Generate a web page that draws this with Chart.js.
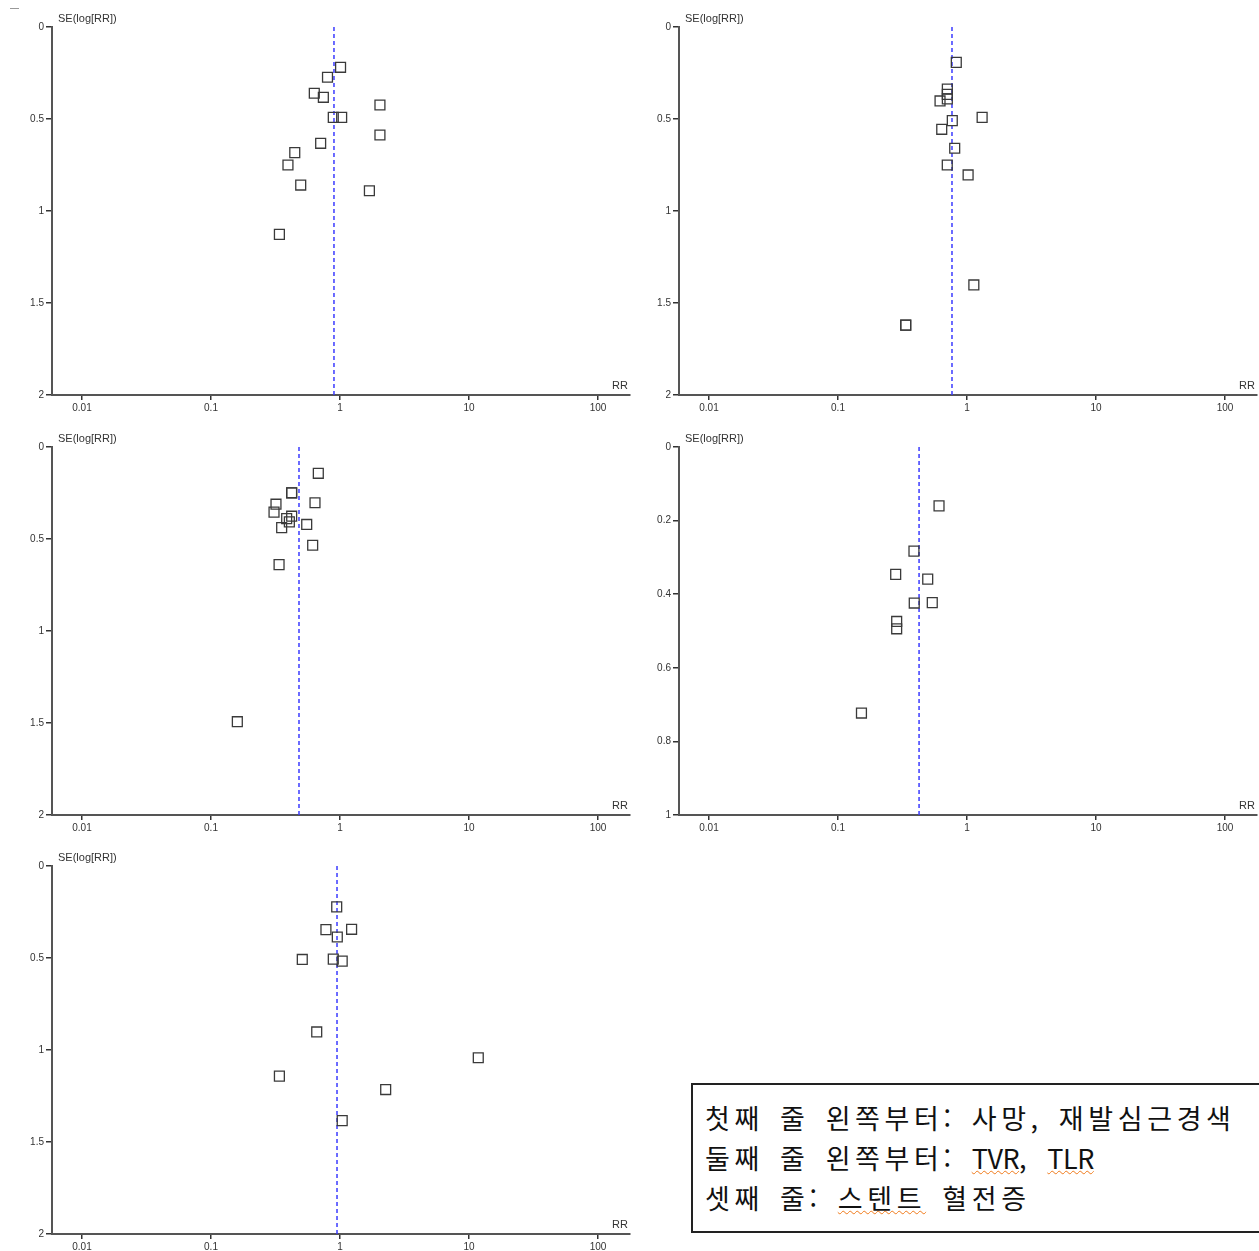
<!DOCTYPE html>
<html lang="ko">
<head>
  <meta charset="UTF-8" />
  <title>Funnel plots</title>
  <script src="https://cdn.jsdelivr.net/npm/chart.js@4.4.3/dist/chart.umd.min.js"></script>
  <style>
    body {
      margin: 0;
      width: 1259px;
      height: 1251px;
      overflow: hidden;
      background: #fff;
      position: relative;
      font-family: 'Liberation Sans', Arial, sans-serif;
    }
    .panel {
      position: absolute;
      width: 640px;
      height: 420px;
    }
    .dash {
      position: absolute;
      left: 10px;
      top: 8px;
      width: 9px;
      height: 1px;
      background: #999;
    }
    .note {
      position: absolute;
      left: 691px;
      top: 1083px;
      width: 600px;
      height: 146px;
      border: 2px solid #222;
      box-sizing: content-box;
      padding: 0;
      font-family: 'Noto Sans CJK KR', sans-serif;
      font-size: 27px;
      line-height: 40px;
      color: #111;
    }
    .note div {
      padding-left: 12px;
      word-spacing: 4px;
      letter-spacing: 4.6px;
      white-space: nowrap;
    }
    .note div:first-child { margin-top: 13px; }
    .typo {
      text-decoration-line: underline;
      text-decoration-style: wavy;
      text-decoration-color: #f07a1a;
      text-decoration-thickness: 1px;
    }
    .latin { letter-spacing: -0.5px; }
  </style>
</head>
<body>
  <div class="dash"></div>
  <div class="panel" style="left:0;top:0"><canvas id="p1"></canvas></div>
  <div class="panel" style="left:627px;top:0"><canvas id="p2"></canvas></div>
  <div class="panel" style="left:0;top:420px"><canvas id="p3"></canvas></div>
  <div class="panel" style="left:627px;top:420px"><canvas id="p4"></canvas></div>
  <div class="panel" style="left:0;top:839px"><canvas id="p5"></canvas></div>

  <div class="note">
    <div>첫째 줄 왼쪽부터: 사망, 재발심근경색</div>
    <div>둘째 줄 왼쪽부터: <span class="typo latin">TVR</span>, <span class="typo latin">TLR</span></div>
    <div>셋째 줄: <span class="typo">스텐트</span> 혈전증</div>
  </div>

  <script>
    // 사망
    const deathRR = [1.01, 0.80, 0.632, 0.743, 2.04, 0.887, 1.03, 2.04, 0.708, 0.446, 0.395, 0.496, 1.69, 0.339];
    const deathSE = [0.219, 0.273, 0.360, 0.382, 0.424, 0.491, 0.491, 0.587, 0.632, 0.683, 0.750, 0.859, 0.890, 1.127];
    // 재발심근경색
    const miRR = [0.826, 0.704, 0.704, 0.704, 0.618, 1.31, 0.769, 0.637, 0.803, 0.703, 1.02, 1.13, 0.335, 0.335];
    const miSE = [0.192, 0.337, 0.366, 0.391, 0.402, 0.491, 0.509, 0.556, 0.659, 0.750, 0.804, 1.402, 1.620, 1.620];
    // TVR
    const tvrRR = [0.679, 0.422, 0.422, 0.640, 0.319, 0.308, 0.386, 0.422, 0.405, 0.552, 0.353, 0.614, 0.337, 0.160];
    const tvrSE = [0.143, 0.249, 0.249, 0.303, 0.311, 0.354, 0.389, 0.376, 0.407, 0.421, 0.438, 0.534, 0.639, 1.493];
    // TLR
    const tlrRR = [0.607, 0.388, 0.280, 0.496, 0.390, 0.538, 0.285, 0.285, 0.152];
    const tlrSE = [0.160, 0.283, 0.346, 0.359, 0.424, 0.423, 0.474, 0.494, 0.723];
    // 스텐트 혈전증
    const stRR = [0.943, 0.778, 1.23, 0.953, 0.510, 0.887, 1.04, 0.660, 11.8, 0.339, 2.26, 1.04];
    const stSE = [0.222, 0.346, 0.344, 0.386, 0.508, 0.506, 0.517, 0.902, 1.042, 1.142, 1.215, 1.384];

    // pooled RR (blue dashed line)
    const pooled = [0.898, 0.765, 0.481, 0.425, 0.948];

    const xTicks = [0.01, 0.1, 1, 10, 100];
    const seTicks2 = [0, 0.5, 1, 1.5, 2];
    const seTicks1 = [0, 0.2, 0.4, 0.6, 0.8, 1];

    const xMin = Math.pow(10, -2 - 30 / 129);
    const xMax = Math.pow(10, -2 - 30 / 129 + 578 / 129);

    // axis titles drawn at the ends of the axes
    const axisTitles = {
      id: 'axisTitles',
      afterDraw(chart) {
        const { ctx, chartArea } = chart;
        ctx.save();
        ctx.fillStyle = '#333';
        ctx.font = '11px "Liberation Sans", Arial, sans-serif';
        ctx.textBaseline = 'middle';
        ctx.textAlign = 'left';
        ctx.fillText('SE(log[RR])', chartArea.left + 6, chartArea.top - 8);
        ctx.textAlign = 'right';
        ctx.fillText('RR', chartArea.right - 2, chartArea.bottom - 9);
        ctx.restore();
      }
    };

    function drawFunnel(id, rr, se, pool, seMax, seTicks) {
      const points = rr.map((v, i) => ({ x: v, y: se[i] }));
      new Chart(document.getElementById(id), {
        type: 'scatter',
        data: {
          datasets: [
            {
              data: points,
              pointStyle: 'rect',
              pointRadius: 7,
              borderColor: '#3a3a3a',
              borderWidth: 1.3,
              backgroundColor: 'rgba(0,0,0,0)'
            },
            {
              type: 'line',
              data: [{ x: pool, y: 0 }, { x: pool, y: seMax }],
              borderColor: '#3b3bff',
              borderWidth: 1.5,
              borderDash: [4, 3],
              pointRadius: 0,
              fill: false
            }
          ]
        },
        options: {
          responsive: true,
          maintainAspectRatio: false,
          animation: false,
          layout: { padding: { top: 27, right: 10, left: 0, bottom: 0 } },
          plugins: { legend: { display: false }, tooltip: { enabled: false } },
          scales: {
            x: {
              type: 'logarithmic',
              min: xMin,
              max: xMax,
              afterBuildTicks: s => { s.ticks = xTicks.map(v => ({ value: v })); },
              afterFit: s => { s.height = 25; },
              ticks: {
                autoSkip: false,
                maxRotation: 0,
                padding: 2,
                color: '#333',
                font: { size: 10, family: '"Liberation Sans", Arial, sans-serif' },
                callback: v => String(v)
              },
              grid: { drawOnChartArea: false, tickLength: 5, color: '#333', lineWidth: 1.5 },
              border: { color: '#555', width: 2 }
            },
            y: {
              reverse: true,
              min: 0,
              max: seMax,
              afterBuildTicks: s => { s.ticks = seTicks.map(v => ({ value: v })); },
              afterFit: s => { s.width = 52; },
              ticks: {
                padding: 2,
                color: '#333',
                font: { size: 10, family: '"Liberation Sans", Arial, sans-serif' },
                callback: v => String(v)
              },
              grid: { drawOnChartArea: false, tickLength: 6, color: '#333', lineWidth: 1.5 },
              border: { color: '#555', width: 2 }
            }
          }
        },
        plugins: [axisTitles]
      });
    }

    drawFunnel('p1', deathRR, deathSE, pooled[0], 2, seTicks2);
    drawFunnel('p2', miRR, miSE, pooled[1], 2, seTicks2);
    drawFunnel('p3', tvrRR, tvrSE, pooled[2], 2, seTicks2);
    drawFunnel('p4', tlrRR, tlrSE, pooled[3], 1, seTicks1);
    drawFunnel('p5', stRR, stSE, pooled[4], 2, seTicks2);
  </script>
</body>
</html>
